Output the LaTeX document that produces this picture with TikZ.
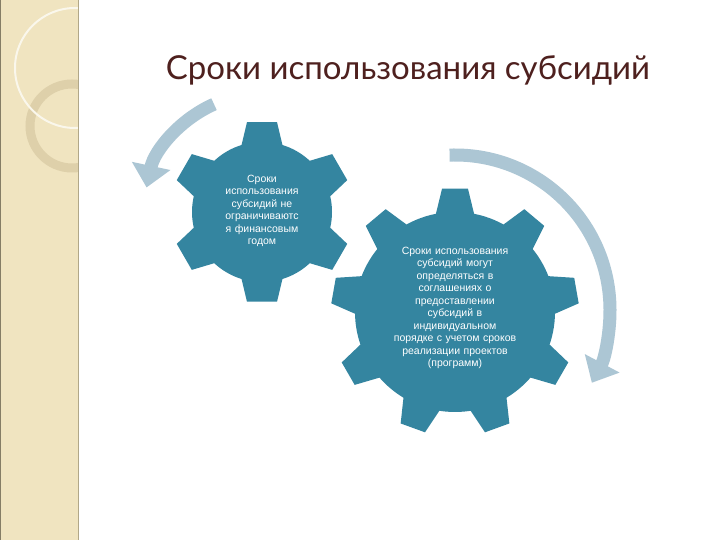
\documentclass[tikz,border=0pt]{standalone}
\usepackage{fontspec}
\setmainfont{Liberation Sans}
\newfontfamily\titlefont{Lato}
\usetikzlibrary{arrows.meta}
\definecolor{gearc}{RGB}{52,133,160}
\definecolor{arrc}{RGB}{172,198,212}
\definecolor{beige}{RGB}{240,228,192}
\definecolor{beiged}{RGB}{222,208,170}
\definecolor{titlec}{RGB}{78,32,30}
\tikzset{
  gearbody/.style={fill=gearc},
  gtext/.style={text=white,font=\fontsize{10.5}{12.5}\selectfont,align=center},
  arr/.style={draw=arrc,line width=13pt,-{Triangle[length=22pt,width=38pt]}}
}
\newcommand\mygear[7]{% cx cy N rin rout wb wt
  \fill[gearbody] (#1,#2) circle (#4);
  \foreach \k in {1,...,#3}{
    \pgfmathsetmacro\aa{90+360*\k/#3}
    \fill[gearbody] ([shift={(#1,#2)}]\aa-#6/2:#4-6) -- ([shift={(#1,#2)}]\aa-#6/2:#4)
      -- ([shift={(#1,#2)}]\aa-#7/2:#5) -- ([shift={(#1,#2)}]\aa+#7/2:#5)
      -- ([shift={(#1,#2)}]\aa+#6/2:#4) -- ([shift={(#1,#2)}]\aa+#6/2:#4-6) -- cycle;
  }
}
\begin{document}
\begin{tikzpicture}[x=1pt,y=1pt]
\useasboundingbox (0,0) rectangle (720,540);
\fill[white] (0,0) rectangle (720,540);
% left strip
\begin{scope}
\clip (0,0) rectangle (78,540);
\fill[beige] (0,0) rectangle (78,540);
\draw[beiged,line width=9pt] (72,414) circle (42);
\draw[white!70!beige,line width=2pt] (75,472) circle (60);
\end{scope}
\draw[beiged!80!black,line width=1pt] (78,0) -- (78,540);
\draw[beiged!60!black,line width=1.5pt] (0.7,0) -- (0.7,540);
% title
\node[font=\titlefont\fontsize{33}{38}\selectfont,text=titlec] (title) at (408,470) {Сроки использования субсидий};
% arrows
\draw[arr] (262,328) ++(114:118) arc[start angle=114,end angle=168,radius=118] coordinate (la);
\draw[arr] (455,230) ++(92:155) arc[start angle=92,end angle=-28,radius=155] coordinate (ra);
% gears
\mygear{262}{328}{6}{70}{91}{34}{19}
\mygear{455}{228}{9}{100}{124}{22}{12}
\node[gtext,text width=85pt] (t1) at (262,329) {Сроки\\использования\\субсидий не\\ограничиваютс\\я финансовым\\годом};
\node[gtext,text width=170pt] (t2) at (455,232) {Сроки использования\\субсидий могут\\определяться в\\соглашениях о\\предоставлении\\субсидий в\\индивидуальном\\порядке с учетом сроков\\реализации проектов\\(программ)};
\end{tikzpicture}
\end{document}
